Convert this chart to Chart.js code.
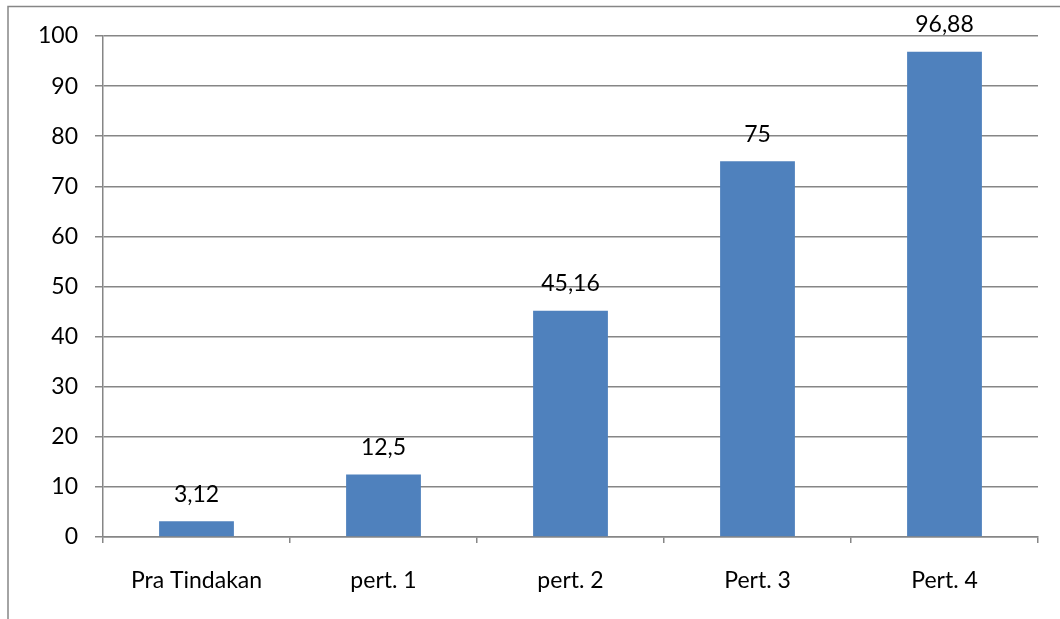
<!DOCTYPE html>
<html>
<head>
<meta charset="utf-8">
<script src="https://cdn.jsdelivr.net/npm/chart.js@4"></script>
<style>
html,body{margin:0;padding:0;background:#fff;}
#wrap{width:1060px;height:619px;position:relative;}
</style>
</head>
<body>
<div id="wrap"><canvas id="c" width="1060" height="619"></canvas></div>
<script>
const categories = ["Pra Tindakan", "pert. 1", "pert. 2", "Pert. 3", "Pert. 4"];
const values = [3.12, 12.5, 45.16, 75, 96.88];
const yTicks = [0, 10, 20, 30, 40, 50, 60, 70, 80, 90, 100];

const FONT = "Lato, 'Liberation Sans', sans-serif";
const FSIZE = 23;
const GRID = "#868686";

const framePlugin = {
  id: 'frame',
  beforeDraw(chart) {
    const ctx = chart.ctx;
    ctx.save();
    ctx.fillStyle = '#fff';
    ctx.fillRect(0, 0, chart.width, chart.height);
    ctx.strokeStyle = GRID;
    ctx.lineWidth = 1.5;
    ctx.strokeRect(8, 6.5, 1200, 800);
    ctx.restore();
  }
};

const labelPlugin = {
  id: 'vlabels',
  afterDatasetsDraw(chart) {
    const ctx = chart.ctx;
    const meta = chart.getDatasetMeta(0);
    ctx.save();
    ctx.font = FSIZE + "px " + FONT;
    ctx.fillStyle = "#000";
    ctx.textAlign = "center";
    ctx.textBaseline = "middle";
    meta.data.forEach((el, i) => {
      const txt = String(values[i]).replace('.', ',');
      ctx.fillText(txt, el.x, el.y - 27);
    });
    ctx.restore();
  }
};

new Chart(document.getElementById('c'), {
  type: 'bar',
  data: {
    labels: categories,
    datasets: [{
      data: values,
      backgroundColor: '#4F81BD',
      borderWidth: 0,
      barPercentage: 0.4,
      categoryPercentage: 1.0
    }]
  },
  options: {
    responsive: false,
    animation: false,
    devicePixelRatio: 1,
    layout: { padding: { top: 36, right: 22, left: 0, bottom: 0 } },
    plugins: { legend: { display: false }, tooltip: { enabled: false } },
    scales: {
      x: {
        grid: { display: true, drawOnChartArea: false, drawTicks: true, tickLength: 6, color: GRID, lineWidth: 1.5, offset: true },
        border: { display: true, color: GRID, width: 1.5 },
        ticks: { color: '#000', font: { size: FSIZE, family: FONT }, padding: 24, maxRotation: 0 },
        afterFit(scale) { scale.height = 82; }
      },
      y: {
        min: 0, max: 100,
        afterBuildTicks(scale) { scale.ticks = yTicks.map(v => ({ value: v })); },
        grid: { color: GRID, lineWidth: 1.5, drawTicks: true, tickLength: 8 },
        border: { display: true, color: GRID, width: 1.5 },
        ticks: { color: '#000', font: { size: FSIZE, family: FONT }, padding: 17 },
        afterFit(scale) { scale.width = 103; }
      }
    }
  },
  plugins: [framePlugin, labelPlugin]
});
</script>
</body>
</html>
